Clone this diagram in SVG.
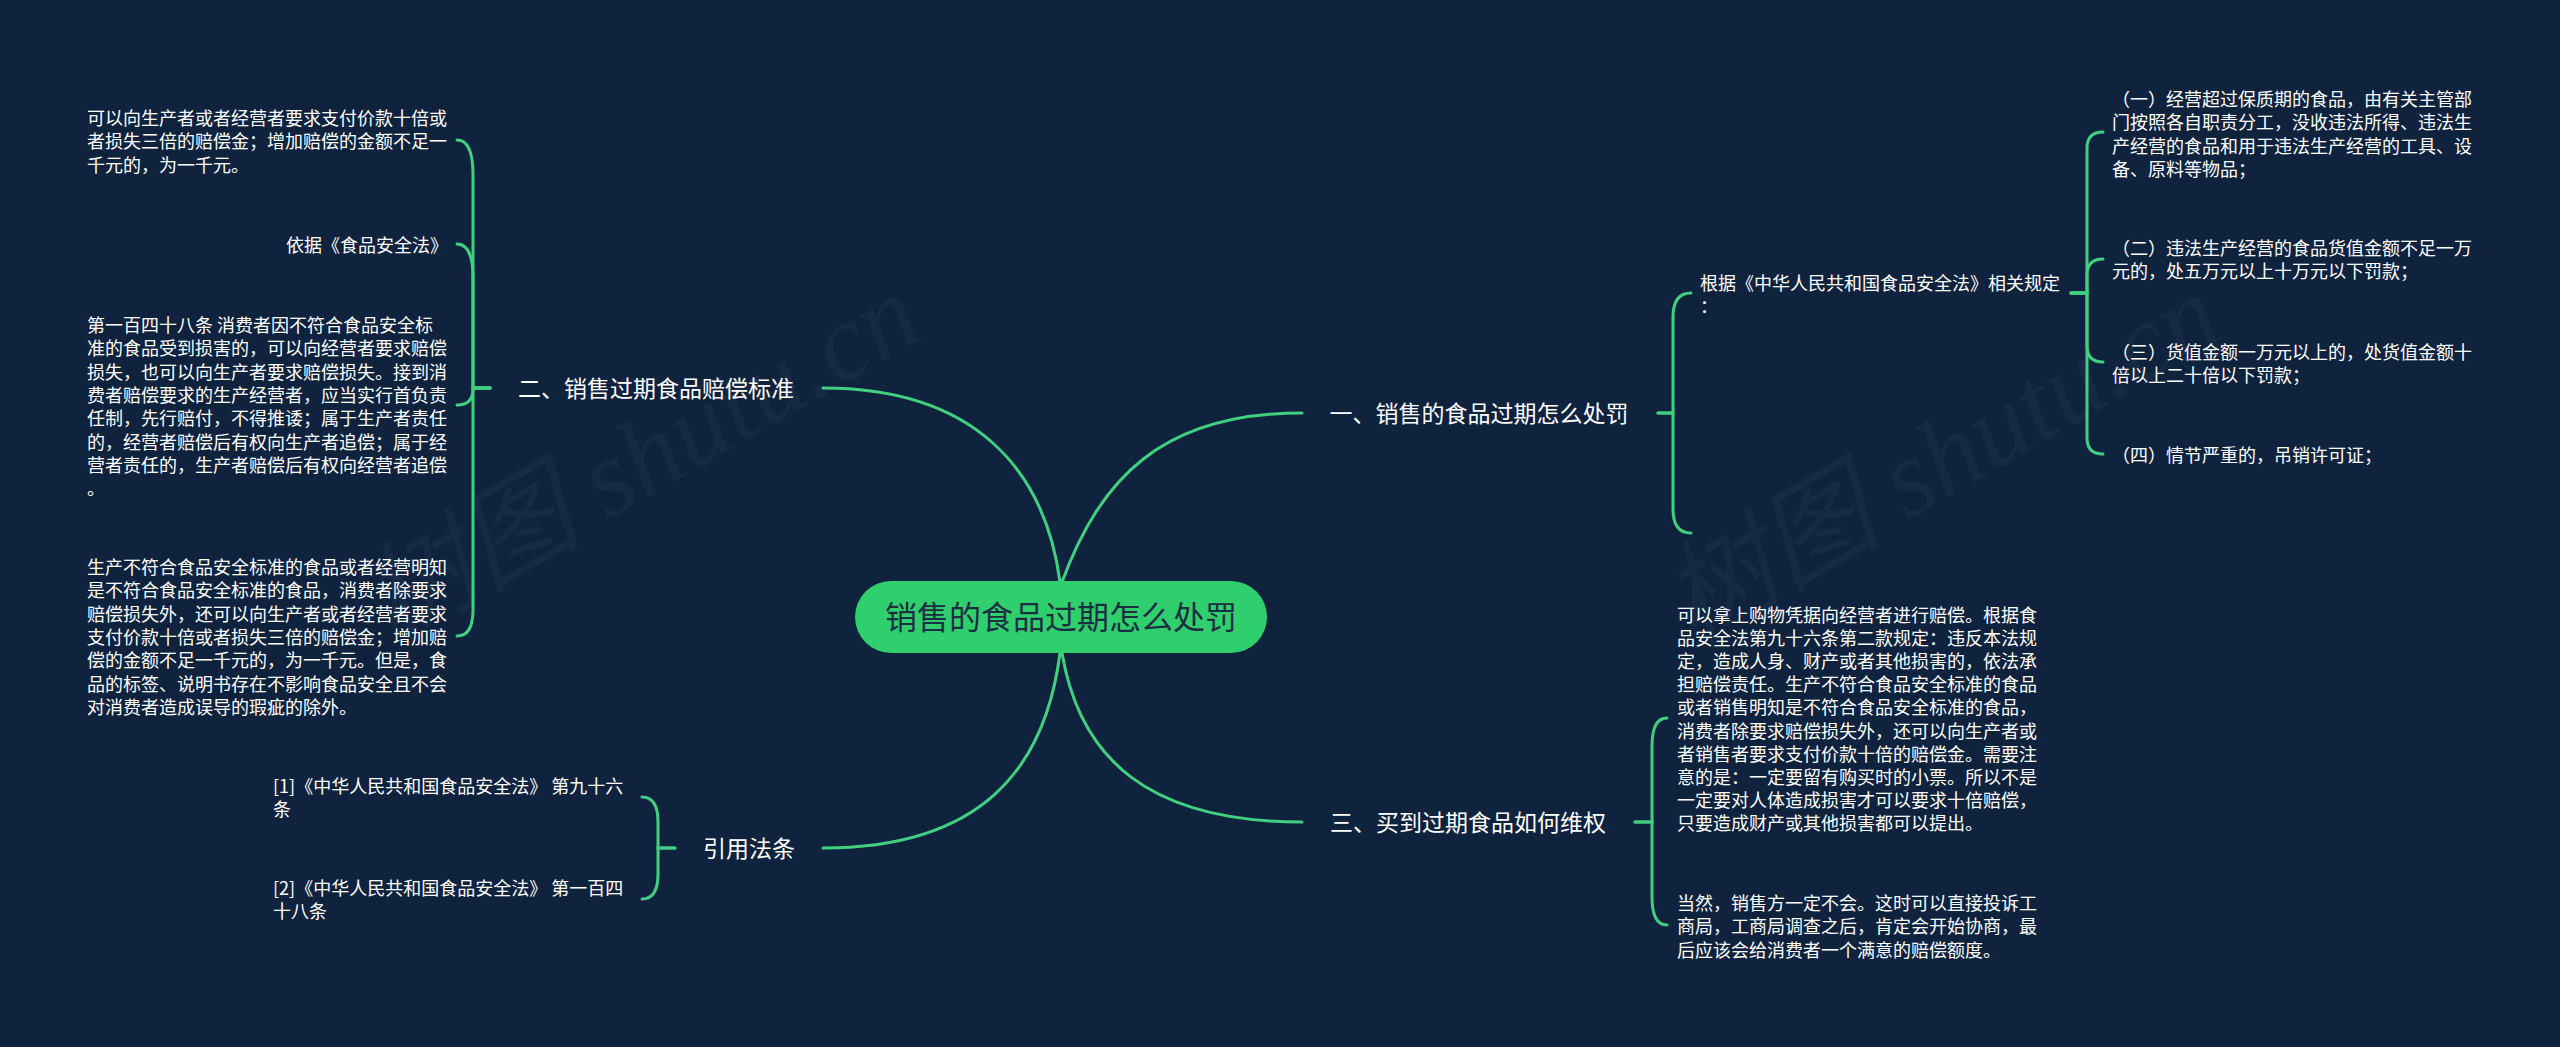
<svg xmlns="http://www.w3.org/2000/svg" width="2560" height="1047" viewBox="0 0 2560 1047">
<style>
.bg{fill:#0f233f}
.ln{fill:none;stroke:#41d07f;stroke-width:3;stroke-linecap:round}
.t{font-family:"Noto Sans CJK SC",sans-serif;fill:#ffffff}
.s{font-size:18px}
.b{font-size:23px}
.r{font-family:"Noto Sans CJK SC",sans-serif;font-size:32px;fill:#1b2e42}
.wm{font-family:"Liberation Serif","Noto Sans CJK SC",serif;font-style:italic;font-size:110px;fill:#ffffff;opacity:0.028}
</style>
<rect class="bg" x="0" y="0" width="2560" height="1047"/>
<g id="watermark">
<text class="wm" transform="translate(660,490) rotate(-30)" text-anchor="middle">树图 shutu.cn</text>
<text class="wm" transform="translate(1960,490) rotate(-30)" text-anchor="middle">树图 shutu.cn</text>
</g>
<g id="connectors">
<path class="ln" d="M1062,582 C1100,480 1160,413 1302,413"/>
<path class="ln" d="M1060,582 C1045,470 975,388 823,388"/>
<path class="ln" d="M1062,653 C1080,760 1150,822 1302,822"/>
<path class="ln" d="M1060,653 C1045,770 980,848 823,848"/>
<path class="ln" d="M1658,413 H1673 V317 Q1673,293 1691,293"/>
<path class="ln" d="M1658,413 H1673 V509 Q1673,533 1691,533"/>
<path class="ln" d="M2071,293 H2087 V148 Q2087,132 2103,132"/>
<path class="ln" d="M2071,293 H2087 V275 Q2087,259 2103,259"/>
<path class="ln" d="M2071,293 H2087 V346 Q2087,362 2103,362"/>
<path class="ln" d="M2071,293 H2087 V438 Q2087,454 2103,454"/>
<path class="ln" d="M490,388 H473 V175 Q473,140 457,140"/>
<path class="ln" d="M490,388 H473 V278 Q473,244 457,244"/>
<path class="ln" d="M490,388 H473 V389 Q473,405 457,405"/>
<path class="ln" d="M490,388 H473 V610 Q473,636 457,636"/>
<path class="ln" d="M675,848 H658 V822 Q658,797 642,797"/>
<path class="ln" d="M675,848 H658 V874 Q658,899 642,899"/>
<path class="ln" d="M1635,822 H1652 V746 Q1652,718 1667,718"/>
<path class="ln" d="M1635,822 H1652 V897 Q1652,925 1667,925"/>
</g>
<g id="root">
<rect x="855" y="581" width="412" height="72" rx="36" fill="#2ecf6c"/>
<text class="r" x="1061" y="629" text-anchor="middle">销售的食品过期怎么处罚</text>
</g>
<g id="b1">
<text class="t b" x="1479" y="422" text-anchor="middle">一、销售的食品过期怎么处罚</text>
</g>
<g id="b2">
<text class="t b" x="656" y="397" text-anchor="middle">二、销售过期食品赔偿标准</text>
</g>
<g id="b3">
<text class="t b" x="1468" y="831" text-anchor="middle">三、买到过期食品如何维权</text>
</g>
<g id="b4">
<text class="t b" x="749" y="857" text-anchor="middle">引用法条</text>
</g>
<g id="b1c1">
<text class="t s" x="1700" y="290"><tspan x="1700">根据《中华人民共和国食品安全法》相关规定</tspan><tspan x="1700" dy="23.3">：</tspan></text>
</g>
<g id="b1c1i1">
<text class="t s" x="2112" y="106"><tspan x="2112">（一）经营超过保质期的食品，由有关主管部</tspan><tspan x="2112" dy="23.3">门按照各自职责分工，没收违法所得、违法生</tspan><tspan x="2112" dy="23.3">产经营的食品和用于违法生产经营的工具、设</tspan><tspan x="2112" dy="23.3">备、原料等物品；</tspan></text>
</g>
<g id="b1c1i2">
<text class="t s" x="2112" y="255"><tspan x="2112">（二）违法生产经营的食品货值金额不足一万</tspan><tspan x="2112" dy="23.3">元的，处五万元以上十万元以下罚款；</tspan></text>
</g>
<g id="b1c1i3">
<text class="t s" x="2112" y="359"><tspan x="2112">（三）货值金额一万元以上的，处货值金额十</tspan><tspan x="2112" dy="23.3">倍以上二十倍以下罚款；</tspan></text>
</g>
<g id="b1c1i4">
<text class="t s" x="2112" y="462">（四）情节严重的，吊销许可证；</text>
</g>
<g id="b2c1">
<text class="t s" x="87" y="125"><tspan x="87">可以向生产者或者经营者要求支付价款十倍或</tspan><tspan x="87" dy="23.3">者损失三倍的赔偿金；增加赔偿的金额不足一</tspan><tspan x="87" dy="23.3">千元的，为一千元。</tspan></text>
</g>
<g id="b2c2">
<text class="t s" x="448" y="252" text-anchor="end">依据《食品安全法》</text>
</g>
<g id="b2c3">
<text class="t s" x="87" y="332"><tspan x="87">第一百四十八条 消费者因不符合食品安全标</tspan><tspan x="87" dy="23.3">准的食品受到损害的，可以向经营者要求赔偿</tspan><tspan x="87" dy="23.3">损失，也可以向生产者要求赔偿损失。接到消</tspan><tspan x="87" dy="23.3">费者赔偿要求的生产经营者，应当实行首负责</tspan><tspan x="87" dy="23.3">任制，先行赔付，不得推诿；属于生产者责任</tspan><tspan x="87" dy="23.3">的，经营者赔偿后有权向生产者追偿；属于经</tspan><tspan x="87" dy="23.3">营者责任的，生产者赔偿后有权向经营者追偿</tspan><tspan x="87" dy="23.3">。</tspan></text>
</g>
<g id="b2c4">
<text class="t s" x="87" y="574"><tspan x="87">生产不符合食品安全标准的食品或者经营明知</tspan><tspan x="87" dy="23.3">是不符合食品安全标准的食品，消费者除要求</tspan><tspan x="87" dy="23.3">赔偿损失外，还可以向生产者或者经营者要求</tspan><tspan x="87" dy="23.3">支付价款十倍或者损失三倍的赔偿金；增加赔</tspan><tspan x="87" dy="23.3">偿的金额不足一千元的，为一千元。但是，食</tspan><tspan x="87" dy="23.3">品的标签、说明书存在不影响食品安全且不会</tspan><tspan x="87" dy="23.3">对消费者造成误导的瑕疵的除外。</tspan></text>
</g>
<g id="b3c1">
<text class="t s" x="1677" y="622"><tspan x="1677">可以拿上购物凭据向经营者进行赔偿。根据食</tspan><tspan x="1677" dy="23.1">品安全法第九十六条第二款规定：违反本法规</tspan><tspan x="1677" dy="23.1">定，造成人身、财产或者其他损害的，依法承</tspan><tspan x="1677" dy="23.1">担赔偿责任。生产不符合食品安全标准的食品</tspan><tspan x="1677" dy="23.1">或者销售明知是不符合食品安全标准的食品，</tspan><tspan x="1677" dy="23.1">消费者除要求赔偿损失外，还可以向生产者或</tspan><tspan x="1677" dy="23.1">者销售者要求支付价款十倍的赔偿金。需要注</tspan><tspan x="1677" dy="23.1">意的是：一定要留有购买时的小票。所以不是</tspan><tspan x="1677" dy="23.1">一定要对人体造成损害才可以要求十倍赔偿，</tspan><tspan x="1677" dy="23.1">只要造成财产或其他损害都可以提出。</tspan></text>
</g>
<g id="b3c2">
<text class="t s" x="1677" y="910"><tspan x="1677">当然，销售方一定不会。这时可以直接投诉工</tspan><tspan x="1677" dy="23.3">商局，工商局调查之后，肯定会开始协商，最</tspan><tspan x="1677" dy="23.3">后应该会给消费者一个满意的赔偿额度。</tspan></text>
</g>
<g id="b4c1">
<text class="t s" x="273" y="793"><tspan x="273">[1]《中华人民共和国食品安全法》 第九十六</tspan><tspan x="273" dy="23.3">条</tspan></text>
</g>
<g id="b4c2">
<text class="t s" x="273" y="895"><tspan x="273">[2]《中华人民共和国食品安全法》 第一百四</tspan><tspan x="273" dy="23.3">十八条</tspan></text>
</g>
</svg>
